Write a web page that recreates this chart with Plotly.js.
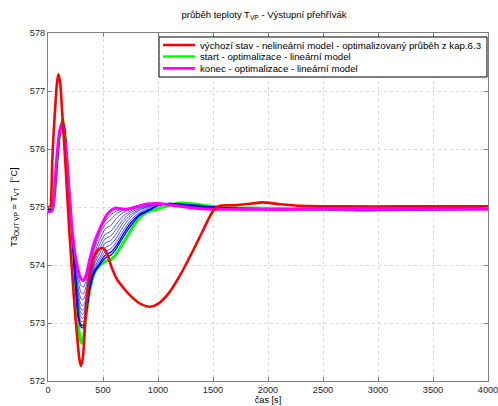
<!DOCTYPE html>
<html>
<head>
<meta charset="utf-8">
<script src="https://cdn.plot.ly/plotly-3.0.1.min.js"></script>
<style>
  html, body { margin: 0; padding: 0; background: #fff; }
  #chart { width: 498px; height: 406px; }
</style>
</head>
<body>
<div id="chart"></div>
<script>
// Outlet superheater temperature T_VP: initial nonlinear run, optimisation start, intermediate iterations, end.

// výchozí stav – nelineární model
const redTime = [0, 20, 30, 39, 52, 64, 80, 94, 110, 130, 155, 175, 195, 220, 245, 268, 285, 300, 318, 336, 357, 385, 420, 460, 503, 535, 575, 625, 680, 760, 850, 927, 1000, 1100, 1200, 1300, 1400, 1500, 1560, 1700, 1850, 1950, 2100, 2300, 2700, 3200, 4000];
const redTemp = [575.0, 575.0, 575.2, 575.8, 576.3, 576.67, 577.1, 577.29, 577.15, 576.6, 575.85, 575.2, 574.55, 573.85, 573.2, 572.7, 572.38, 572.26, 572.42, 572.95, 573.5, 573.9, 574.15, 574.27, 574.29, 574.2, 573.98, 573.76, 573.62, 573.45, 573.32, 573.28, 573.33, 573.52, 573.82, 574.18, 574.56, 574.93, 575.02, 575.03, 575.06, 575.08, 575.05, 575.02, 575.01, 575.01, 575.01];

// start – optimalizace, lineární model
const greenTime = [0, 40, 60, 85, 110, 134, 150, 175, 200, 225, 250, 275, 292, 305, 320, 345, 375, 410, 457, 520, 579, 640, 715, 780, 836, 900, 988, 1100, 1200, 1300, 1450, 1600, 2000, 2500, 2880, 3200, 3500, 4000];
const greenTemp = [574.96, 574.97, 575.2, 575.8, 576.3, 576.51, 576.35, 575.75, 575.05, 574.35, 573.65, 573.0, 572.72, 572.65, 572.72, 573.1, 573.5, 573.8, 573.97, 574.06, 574.1, 574.25, 574.48, 574.68, 574.82, 574.91, 574.96, 575.03, 575.07, 575.06, 575.02, 574.99, 574.98, 574.96, 574.94, 574.96, 574.97, 574.97];

// konec – optimalizace, lineární model
const magentaTime = [0, 35, 55, 80, 105, 124, 145, 170, 195, 220, 245, 270, 295, 321, 345, 380, 420, 473, 520, 565, 610, 660, 720, 800, 900, 1000, 1100, 1250, 1400, 1600, 2500, 4000];
const magentaTemp = [574.92, 574.93, 575.2, 575.85, 576.3, 576.44, 576.3, 575.85, 575.2, 574.6, 574.2, 573.95, 573.78, 573.73, 573.82, 574.1, 574.38, 574.63, 574.82, 574.93, 574.98, 574.97, 574.96, 575.0, 575.05, 575.06, 575.04, 575.0, 574.97, 574.96, 574.96, 574.96];

// intermediate iterations of the optimisation (thin blue)
const iterTime = [0, 40, 60, 85, 110, 130, 150, 175, 200, 225, 250, 275, 300, 320, 345, 380, 420, 470, 520, 570, 620, 680, 750, 830, 920, 1000, 1100, 1200, 1350, 1500, 1700, 2000, 2500, 3000, 4000];
const iter1 = [574.93, 574.94, 575.28, 575.93, 576.33, 576.44, 576.31, 575.84, 575.17, 574.47, 574.08, 573.82, 573.65, 573.62, 573.72, 574.02, 574.32, 574.58, 574.76, 574.86, 574.93, 574.96, 574.98, 575.03, 575.05, 575.06, 575.04, 575.01, 574.98, 574.97, 574.96, 574.96, 574.96, 574.96, 574.96];
const iter2 = [574.93, 574.94, 575.27, 575.92, 576.33, 576.44, 576.32, 575.83, 575.15, 574.45, 574.0, 573.72, 573.53, 573.5, 573.62, 573.95, 574.26, 574.52, 574.7, 574.78, 574.88, 574.94, 574.98, 575.03, 575.05, 575.06, 575.04, 575.01, 574.98, 574.97, 574.96, 574.96, 574.96, 574.96, 574.96];
const iter3 = [574.94, 574.95, 575.26, 575.9, 576.32, 576.45, 576.32, 575.82, 575.13, 574.43, 573.93, 573.6, 573.42, 573.4, 573.52, 573.88, 574.18, 574.44, 574.62, 574.68, 574.8, 574.9, 574.96, 575.02, 575.05, 575.06, 575.05, 575.02, 574.99, 574.97, 574.97, 574.96, 574.96, 574.96, 574.96];
const iter4 = [574.94, 574.95, 575.25, 575.88, 576.32, 576.45, 576.33, 575.81, 575.12, 574.41, 573.86, 573.5, 573.32, 573.3, 573.43, 573.8, 574.1, 574.36, 574.53, 574.58, 574.7, 574.84, 574.93, 575.0, 575.04, 575.06, 575.05, 575.03, 574.99, 574.98, 574.97, 574.96, 574.96, 574.96, 574.96];
const iter5 = [574.94, 574.95, 575.24, 575.87, 576.31, 576.46, 576.33, 575.8, 575.1, 574.4, 573.8, 573.42, 573.24, 573.22, 573.36, 573.75, 574.04, 574.28, 574.45, 574.5, 574.62, 574.78, 574.9, 574.98, 575.03, 575.06, 575.05, 575.04, 575.0, 574.98, 574.97, 574.96, 574.96, 574.96, 574.96];
const iter6 = [574.95, 574.96, 575.23, 575.85, 576.31, 576.46, 576.34, 575.79, 575.09, 574.39, 573.75, 573.35, 573.17, 573.15, 573.3, 573.7, 574.0, 574.2, 574.38, 574.42, 574.54, 574.72, 574.86, 574.96, 575.02, 575.05, 575.05, 575.04, 575.0, 574.98, 574.97, 574.96, 574.96, 574.95, 574.96];
const iter7 = [574.95, 574.96, 575.22, 575.84, 576.3, 576.47, 576.34, 575.78, 575.08, 574.38, 573.72, 573.28, 573.1, 573.08, 573.24, 573.66, 573.95, 574.13, 574.3, 574.35, 574.46, 574.65, 574.82, 574.94, 575.01, 575.05, 575.06, 575.05, 575.01, 574.99, 574.97, 574.96, 574.96, 574.95, 574.96];
const iter8 = [574.95, 574.96, 575.21, 575.83, 576.3, 576.47, 576.35, 575.77, 575.07, 574.37, 573.7, 573.2, 573.03, 573.02, 573.2, 573.62, 573.91, 574.08, 574.23, 574.28, 574.39, 574.58, 574.77, 574.9, 574.99, 575.04, 575.06, 575.05, 575.02, 574.99, 574.97, 574.97, 574.96, 574.95, 574.96];
const iter9 = [574.96, 574.97, 575.2, 575.81, 576.3, 576.48, 576.35, 575.76, 575.06, 574.36, 573.68, 573.14, 572.97, 572.96, 573.15, 573.6, 573.88, 574.03, 574.17, 574.22, 574.33, 574.52, 574.72, 574.87, 574.96, 575.03, 575.06, 575.05, 575.02, 575.0, 574.98, 574.97, 574.96, 574.95, 574.96];
const iter10 = [574.96, 574.97, 575.2, 575.8, 576.3, 576.48, 576.35, 575.75, 575.05, 574.35, 573.66, 573.1, 572.93, 572.92, 573.12, 573.58, 573.86, 574.0, 574.12, 574.17, 574.28, 574.47, 574.67, 574.85, 574.94, 575.02, 575.06, 575.05, 575.03, 575.0, 574.98, 574.97, 574.96, 574.95, 574.97];
const iterations = [iter1, iter2, iter3, iter4, iter5, iter6, iter7, iter8, iter9, iter10];

// axis ticks
const xTicks = [0, 500, 1000, 1500, 2000, 2500, 3000, 3500, 4000];
const yTicks = [572, 573, 574, 575, 576, 577, 578];

// legend entries, top to bottom
const legendNames = [
  'výchozí stav - nelineární model - optimalizovaný průběh z kap.6.3',
  'start - optimalizace - lineární model',
  'konec - optimalizace - lineární model'
];
const legendColors = ['#ff0000', '#00ff00', '#ff00ff'];

const FONT = 'Liberation Sans, Arial, sans-serif';
const traces = [];

traces.push({
  x: greenTime, y: greenTemp, type: 'scatter', mode: 'lines',
  line: { color: legendColors[1], width: 3, shape: 'spline', smoothing: 0.8 },
  name: legendNames[1]
});

iterations.forEach((vals, i) => {
  traces.push({
    x: iterTime, y: vals, type: 'scatter', mode: 'lines',
    line: { color: '#0000ff', width: i >= 8 ? 1.3 : 0.7, shape: 'spline', smoothing: 0.8 },
    name: 'iterace ' + (i + 1)
  });
});

traces.push({
  x: magentaTime, y: magentaTemp, type: 'scatter', mode: 'lines',
  line: { color: legendColors[2], width: 3, shape: 'spline', smoothing: 0.8 },
  name: legendNames[2]
});

traces.push({
  x: redTime, y: redTemp, type: 'scatter', mode: 'lines',
  line: { color: legendColors[0], width: 2.6, shape: 'spline', smoothing: 0.8 },
  name: legendNames[0]
});

// Compact boxed legend in the upper right part of the axes
const legBox = { x0: 0.2523, x1: 0.9977, y0: 0.8736, y1: 0.9885 };
const legRowsY = [0.9655, 0.9325, 0.8983];
const legLineX = [0.2614, 0.3341];
const legTextX = 0.3409;

const shapes = [{
  type: 'rect', xref: 'paper', yref: 'paper',
  x0: legBox.x0, x1: legBox.x1, y0: legBox.y0, y1: legBox.y1,
  line: { color: '#000000', width: 1 }, fillcolor: '#ffffff', layer: 'above'
}];
const annotations = [];
legendNames.forEach((name, i) => {
  shapes.push({
    type: 'line', xref: 'paper', yref: 'paper',
    x0: legLineX[0], x1: legLineX[1], y0: legRowsY[i], y1: legRowsY[i],
    line: { color: legendColors[i], width: 2.6 }, layer: 'above'
  });
  annotations.push({
    xref: 'paper', yref: 'paper', x: legTextX, y: legRowsY[i],
    xanchor: 'left', yanchor: 'middle', showarrow: false,
    text: name, font: { family: FONT, size: 9.7, color: '#000' }
  });
});

const axisCommon = {
  showline: true, linecolor: '#808080', linewidth: 1, mirror: 'ticks',
  ticks: 'inside', ticklen: 4, tickcolor: '#808080',
  showgrid: true, gridcolor: '#d9d9d9', griddash: 'dot', gridwidth: 1,
  zeroline: false, ticklabeloverflow: 'allow',
  tickfont: { family: FONT, size: 9.2, color: '#262626' }
};

const layout = {
  width: 498, height: 406,
  margin: { l: 48, r: 10, t: 33, b: 25, autoexpand: false },
  paper_bgcolor: '#ffffff', plot_bgcolor: '#ffffff',
  font: { family: FONT, size: 9.2, color: '#000' },
  showlegend: false,
  title: {
    text: 'průběh teploty T<sub>VP</sub> - Výstupní přehřívák',
    font: { family: FONT, size: 9.5, color: '#000' },
    x: 0.53, xanchor: 'center', y: 0.963, yanchor: 'middle'
  },
  xaxis: Object.assign({}, axisCommon, {
    range: [0, 4000], tickvals: xTicks, ticktext: xTicks.map(String),
    title: { text: 'čas [s]', font: { family: FONT, size: 9.2, color: '#000' }, standoff: 0 }
  }),
  yaxis: Object.assign({}, axisCommon, {
    range: [572, 578], tickvals: yTicks, ticktext: yTicks.map(String),
    title: { text: 'T3<sub>OUT VP</sub> = T<sub>VT</sub>  [°C]', font: { family: FONT, size: 9.2, color: '#000' }, standoff: 10 }
  }),
  shapes: shapes,
  annotations: annotations
};

Plotly.newPlot('chart', traces, layout, { staticPlot: true, displayModeBar: false });
</script>
</body>
</html>
